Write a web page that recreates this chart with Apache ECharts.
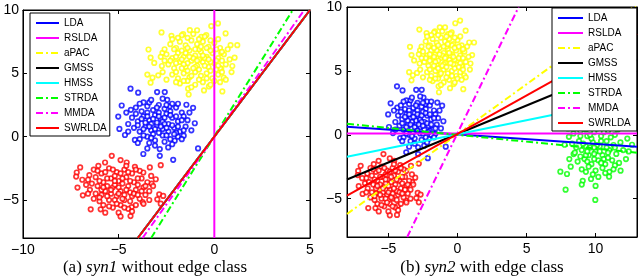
<!DOCTYPE html>
<html>
<head>
<meta charset="utf-8">
<script src="https://cdn.jsdelivr.net/npm/echarts@6/dist/echarts.min.js"></script>
<style>html,body{margin:0;padding:0;background:#fff}#c{width:640px;height:280px}</style>
</head>
<body>
<div id="c"></div>
<script>
// ---- tick labels ----
const xTicksA = [-10, -5, 0, 5];
const yTicksA = [-5, 0, 5, 10];
const xTicksB = [-5, 0, 5, 10];
const yTicksB = [-5, 0, 5, 10];

// ---- legend / method names ----
const methods = ['LDA', 'RSLDA', 'aPAC', 'GMSS', 'HMSS', 'STRDA', 'MMDA', 'SWRLDA'];
const methodColors = ['#0000ff', '#ff00ff', '#ffff00', '#000000', '#00ffff', '#00ff00', '#ff00ff', '#ff0000'];
const methodDash = ['solid', 'solid', 'dashdot', 'solid', 'solid', 'dashdot', 'dashdot', 'solid'];

// ---- projection lines (end points, in method order) ----
const syn1Lines = [
  [[-4, -8], [5, 10]],
  [[0, -8], [0, 10]],
  [[-4, -8], [5, 10]],
  [[-4, -8], [5, 10]],
  [[-4, -8], [5, 10]],
  [[-3.3, -8], [4.1, 10]],
  [[-3.75, -8], [4.7, 10]],
  [[-4, -8], [5, 10]]
];
const syn2Lines = [
  [[-8, 0.62], [13, -0.94]],
  [[-8, 0.1], [13, 0.1]],
  [[-8, -6.2], [13, 10.2]],
  [[-8, -3.5], [13, 5.85]],
  [[-8, -1.72], [13, 2.9]],
  [[-8, 0.86], [13, -1.4]],
  [[-3.64, -8], [4.43, 10]],
  [[-8, -4.77], [13, 7.9]]
];

// ---- class samples ----
const yellowPts = [
  [-2.76,8.23],[-2.24,7.96],[-1.28,8.41],[0.19,8.94],[-0.16,8.73],[0.59,8.15],[0.85,7.22],[1.2,7.22],
  [1.06,6.24],[0.94,5.58],[-3.44,6.88],[-3.33,6.24],[-3.14,5.82],[-3.5,4.9],[-3.23,4.66],[-2.93,4.84],
  [-3.33,4.26],[-1.37,3.79],[-1.34,3.33],[-0.54,3.65],[-0.28,3.97],[0.42,3.57],[0.49,4.66],[0.36,5.37],
  [0.36,6.61],[-0.42,8.02],[-0.68,7.88],[-1.63,8.1],[-2.71,6.61],[-2.74,5.58],
  [-2.3,7.3],[-2.0,7.0],[-1.8,7.5],[-1.5,7.2],[-1.2,7.6],[-0.9,7.3],[-0.6,7.5],[-0.3,7.1],[0.0,7.4],[0.3,7.0],
  [-2.5,6.5],[-2.2,6.2],[-1.9,6.6],[-1.6,6.3],[-1.3,6.8],[-1.0,6.4],[-0.7,6.7],[-0.4,6.3],[-0.1,6.6],[0.2,6.2],[0.5,6.5],
  [-2.4,5.7],[-2.1,5.4],[-1.8,5.9],[-1.5,5.5],[-1.2,6.0],[-0.9,5.6],[-0.6,5.9],[-0.3,5.5],[0.0,5.8],[0.3,5.4],[0.6,5.7],
  [-2.2,4.9],[-1.9,4.6],[-1.6,5.0],[-1.3,4.7],[-1.0,5.1],[-0.7,4.8],[-0.4,5.0],[-0.1,4.6],[0.2,4.9],
  [-1.8,4.2],[-1.4,4.4],[-1.0,4.1],[-0.6,4.3],[-0.2,4.1],
  [-1.7,8.0],[-1.1,8.1],[-0.5,7.9],[-2.6,6.9],[0.7,6.9],[-2.7,5.1],[0.6,4.5],
  [-1.1,6.2],[-0.8,6.1],[-1.4,5.8],[-0.5,6.2],[-1.7,6.1],[-0.2,5.9],[-1.0,5.5],[-0.8,6.9],[-1.5,6.6],[-0.4,7.0],[-2.0,5.8],[0.1,6.0],
  [-2.1,6.9],[-1.7,6.8],[-1.4,7.0],[-1.0,6.9],[-0.7,7.1],[-0.2,6.8],[0.1,6.9],[0.4,6.7],
  [-2.3,6.0],[-2.0,6.3],[-1.6,5.7],[-1.3,6.3],[-0.9,6.0],[-0.6,6.4],[-0.3,6.1],[0.2,5.6],[0.4,6.0],
  [-2.0,5.1],[-1.7,5.4],[-1.4,5.2],[-1.1,5.4],[-0.8,5.3],[-0.5,5.6],[-0.2,5.2],[0.1,5.3],[0.4,5.1],
  [-1.6,4.4],[-1.2,4.8],[-0.8,4.5],[-0.4,4.6],[0.0,4.4],
  [-1.9,7.8],[-1.4,7.8],[-0.8,7.7],[-0.2,7.6],[0.2,7.7],
  [-2.6,6.0],[-2.8,6.3],[0.8,6.1],[0.9,5.1],[-2.5,4.5],[-2.0,4.3],[-1.2,3.9],[0.3,4.3],[-0.9,8.4],[-2.2,7.7]
];
const bluePts = [
  [-4.38,3.79],[-3.98,3.47],[-2.99,3.52],[-2.59,3.52],[-4.84,2.46],[-5.02,1.59],[-4.96,0.61],[-4.67,0.13],
  [-4.15,-0.26],[-3.71,-1.37],[-3.5,-0.93],[-2.85,-0.98],[-2.41,-0.85],[-2.85,-1.51],[-2.15,-1.83],[-2.07,-0.32],
  [-1.6,0.08],[-1.02,1.06],[-0.85,-0.93],[-1.46,2.52],[-1.11,2.28],[-2.46,2.91],[-2.33,2.4],[-4.36,2.12],
  [-4.1,2.3],[-3.8,2.0],[-3.5,2.4],[-3.2,2.1],[-2.9,2.5],[-2.6,2.2],[-2.3,2.0],[-2.0,2.3],[-1.7,1.9],
  [-4.3,1.5],[-4.0,1.2],[-3.7,1.6],[-3.4,1.3],[-3.1,1.7],[-2.8,1.4],[-2.5,1.8],[-2.2,1.5],[-1.9,1.2],[-1.6,1.6],
  [-4.2,0.7],[-3.9,0.4],[-3.6,0.8],[-3.3,0.5],[-3.0,0.9],[-2.7,0.6],[-2.4,1.0],[-2.1,0.7],[-1.8,0.4],[-1.5,0.8],
  [-3.9,-0.2],[-3.5,0.0],[-3.1,-0.3],[-2.7,0.1],[-2.3,-0.2],[-1.9,0.0],
  [-3.0,1.1],[-3.3,1.0],[-2.7,1.2],[-3.6,1.1],[-2.4,0.4],[-3.2,0.2],[-2.9,1.9],[-3.5,1.9],[-2.6,1.0],[-2.2,2.6],
  [-3.7,2.7],[-4.5,1.0],[-1.4,1.3],[-2.0,0.3],[-3.4,-0.5],[-2.6,-0.4],
  [-3.9,2.6],[-3.4,2.7],[-3.0,2.3],[-2.5,2.5],[-1.9,2.6],
  [-4.1,1.8],[-3.8,1.4],[-3.5,1.6],[-3.2,1.4],[-2.9,1.6],[-2.6,1.5],[-2.3,1.7],[-2.0,1.6],[-1.7,1.3],
  [-4.0,0.9],[-3.7,0.6],[-3.4,0.8],[-3.1,0.6],[-2.8,0.8],[-2.5,0.7],[-2.2,0.9],[-1.9,0.8],[-1.6,0.5],
  [-3.7,0.1],[-3.3,-0.1],[-2.9,0.3],[-2.5,0.1],[-2.1,0.2],[-1.7,-0.2],
  [-4.6,1.9],[-4.5,0.4],[-1.3,1.9],[-1.2,0.5],[-3.1,-0.7],[-2.2,-0.6],[-4.0,-0.5],[-3.3,2.9],[-2.7,3.0]
];
const redPts = [
  [-5.36,-1.51],[-7.01,-2.43],[-7.19,-2.83],[-7.22,-3.15],[-7.15,-4.02],[-6.87,-4.63],[-6.46,-5.74],[-4.9,-1.85],
  [-4.58,-2.04],[-4.15,-2.38],[-3.37,-2.43],[-2.8,-2.25],[-3.06,-3.36],[-3.28,-3.71],[-2.88,-4.55],[-2.67,-4.68],
  [-2.98,-4.95],[-2.8,-5.29],[-3.75,-5.16],[-4.32,-5.56],[-4.38,-6.27],[-5.94,-5.74],[-5.71,-2.04],[-6.06,-2.3],
  [-6.53,-3.04],[-3.71,-2.83],
  [-6.3,-2.6],[-5.9,-2.9],[-5.5,-2.5],[-5.1,-2.8],[-4.7,-2.6],[-4.3,-2.9],[-3.9,-2.7],
  [-6.6,-3.4],[-6.2,-3.2],[-5.8,-3.6],[-5.4,-3.3],[-5.0,-3.5],[-4.6,-3.2],[-4.2,-3.6],[-3.8,-3.3],[-3.5,-3.6],
  [-6.5,-4.2],[-6.1,-3.9],[-5.7,-4.3],[-5.3,-4.0],[-4.9,-4.3],[-4.5,-3.9],[-4.1,-4.2],[-3.7,-4.0],[-3.4,-4.3],
  [-6.3,-4.9],[-5.9,-4.6],[-5.5,-5.0],[-5.1,-4.7],[-4.7,-5.0],[-4.3,-4.7],[-3.9,-4.9],[-3.6,-4.6],
  [-5.8,-5.4],[-5.3,-5.6],[-4.9,-5.4],[-4.5,-5.7],[-4.1,-5.4],
  [-5.0,-4.0],[-5.2,-3.8],[-4.8,-3.7],[-5.6,-3.9],[-4.4,-4.4],[-5.4,-4.5],[-4.7,-4.6],[-5.9,-4.2],[-4.0,-3.8],
  [-5.2,-3.1],[-6.7,-3.8],[-5.0,-6.0],[-6.0,-5.1],[-4.6,-2.3],[-3.3,-3.1],
  [-6.1,-2.7],[-5.7,-2.8],[-5.3,-2.6],[-4.9,-2.9],[-4.5,-2.8],[-4.1,-2.6],
  [-6.4,-3.7],[-6.0,-3.5],[-5.6,-3.3],[-5.2,-3.5],[-4.8,-3.3],[-4.4,-3.5],[-4.0,-3.3],[-3.6,-3.9],
  [-6.2,-4.5],[-5.8,-4.0],[-5.4,-4.2],[-5.0,-4.5],[-4.6,-4.2],[-4.2,-4.5],[-3.8,-4.3],
  [-6.0,-4.8],[-5.6,-4.7],[-5.2,-5.0],[-4.8,-4.9],[-4.4,-5.1],[-4.0,-4.6],[-3.7,-5.3],
  [-5.5,-5.5],[-5.1,-5.3],[-4.7,-5.6],[-4.3,-5.9],[-5.7,-6.0],[-6.6,-4.5],[-6.9,-3.4],[-3.2,-3.9],[-3.4,-5.0],[-4.9,-6.3]
];
const greenPts = [
  [7.83,-4.3],[9.98,-5.1],[7.45,-2.89],[7.93,-3.07],[9.07,-3.6],[9.67,-3.46],[10.98,-3.28],[11.81,-2.81],
  [12.4,-1.3],[7.76,-0.78],[8.07,-0.16],[8.41,-1.51],[12.64,-0.78],
  [8.6,0.8],[9.2,1.0],[9.8,0.7],[10.4,1.1],[11.0,0.8],
  [8.4,0.1],[8.9,0.3],[9.4,-0.1],[9.9,0.2],[10.4,-0.1],[10.9,0.3],[11.4,0.0],
  [8.3,-0.7],[8.8,-0.5],[9.3,-0.9],[9.8,-0.6],[10.3,-0.9],[10.8,-0.5],[11.3,-0.8],[11.8,-0.6],
  [8.5,-1.4],[9.0,-1.2],[9.5,-1.6],[10.0,-1.3],[10.5,-1.6],[11.0,-1.2],[11.5,-1.5],
  [8.7,-2.1],[9.2,-1.9],[9.7,-2.3],[10.2,-2.0],[10.7,-2.3],[11.2,-2.0],[11.7,-2.2],
  [9.0,-2.7],[9.5,-2.5],[10.0,-2.8],[10.5,-2.6],[11.0,-2.9],
  [9.9,-1.5],[10.1,-0.8],[9.6,-1.0],[10.6,-1.9],[9.3,-1.6],[10.3,-1.3],[10.8,-1.0],[9.7,-0.3],[12.0,-1.2],[8.1,-1.9],[10.2,-3.3],
  [8.9,-0.1],[9.3,0.4],[9.6,0.0],[10.1,0.5],[10.6,0.2],[11.1,-0.2],[11.6,0.4],
  [8.6,-1.0],[9.1,-0.7],[9.4,-1.3],[9.9,-1.0],[10.4,-0.5],[10.9,-1.4],[11.4,-1.0],
  [8.9,-1.7],[9.4,-2.1],[9.9,-1.9],[10.4,-2.2],[10.9,-1.8],[11.4,-2.4],
  [9.3,-2.9],[9.8,-3.1],[10.7,-3.0],[11.3,-2.7],[8.2,-2.5],[12.2,-1.9],[12.3,-0.3],[8.0,0.5],[10.0,-4.0],[9.0,-3.9]
];

// ---- build chart ----
const AX = '#000';
const FONT = 'Liberation Sans';
const minus = v => String(v).replace('-', '\u2212');
const dashMap = { solid: 'solid', dashdot: [7, 3, 2, 3] };

function xAxes(gi, min, max, ticks) {
  return [
    { gridIndex: gi, type: 'value', min, max, position: 'bottom',
      axisLine: { show: true, onZero: false, lineStyle: { color: AX, width: 1 } },
      axisTick: { show: true, inside: true, length: 4, customValues: ticks, lineStyle: { color: AX } },
      axisLabel: { show: true, customValues: ticks, margin: 5, color: '#000', fontFamily: FONT, fontSize: 14, formatter: minus },
      splitLine: { show: false } },
    { gridIndex: gi, type: 'value', min, max, position: 'top',
      axisLine: { show: true, onZero: false, lineStyle: { color: AX, width: 1 } },
      axisTick: { show: true, inside: true, length: 4, customValues: ticks, lineStyle: { color: AX } },
      axisLabel: { show: false }, splitLine: { show: false } }
  ];
}
function yAxes(gi, min, max, ticks, margin) {
  return [
    { gridIndex: gi, type: 'value', min, max, position: 'left',
      axisLine: { show: true, onZero: false, lineStyle: { color: AX, width: 1 } },
      axisTick: { show: true, inside: true, length: 4, customValues: ticks, lineStyle: { color: AX } },
      axisLabel: { show: true, customValues: ticks, margin, color: '#000', fontFamily: FONT, fontSize: 14, formatter: minus },
      splitLine: { show: false } },
    { gridIndex: gi, type: 'value', min, max, position: 'right',
      axisLine: { show: true, onZero: false, lineStyle: { color: AX, width: 1 } },
      axisTick: { show: true, inside: true, length: 4, customValues: ticks, lineStyle: { color: AX } },
      axisLabel: { show: false }, splitLine: { show: false } }
  ];
}

function scatter(data, color, xi, yi) {
  return { type: 'scatter', data, xAxisIndex: xi, yAxisIndex: yi, symbol: 'circle', symbolSize: 4.5,
    itemStyle: { color: '#fff', borderColor: color, borderWidth: 1.7 }, z: 2, silent: true };
}
function lines(ends, xi, yi) {
  return methods.map((m, i) => ({
    type: 'line', name: m, data: ends[i], xAxisIndex: xi, yAxisIndex: yi,
    symbol: 'none', showSymbol: false, z: 3, silent: true,
    lineStyle: { color: methodColors[i], width: 2, type: dashMap[methodDash[i]] },
    itemStyle: { color: methodColors[i] }
  }));
}

const legendCommon = {
  orient: 'vertical', data: methods, backgroundColor: '#fff', borderColor: '#000', borderWidth: 1,
  itemHeight: 10, itemGap: 5, selectedMode: false,
  itemStyle: { opacity: 0 },
  lineStyle: { width: 2 },
  textStyle: { fontFamily: FONT, fontSize: 10, color: '#000', lineHeight: 10 }
};

const option = {
  animation: false,
  grid: [
    { left: 22, top: 10, width: 288, height: 228, show: true, borderColor: AX, borderWidth: 1, backgroundColor: 'transparent' },
    { left: 347, top: 7, width: 290, height: 230, show: true, borderColor: AX, borderWidth: 1, backgroundColor: 'transparent' }
  ],
  xAxis: [...xAxes(0, -10, 5, xTicksA), ...xAxes(1, -8, 13, xTicksB)],
  yAxis: [...yAxes(0, -8, 10, yTicksA, 4), ...yAxes(1, -8, 10, yTicksB, 5)],
  legend: [
    Object.assign({}, legendCommon, { left: 30, top: 13, itemWidth: 23, padding: [5, 3, 3, 5] }),
    Object.assign({}, legendCommon, { left: 552, top: 8, itemWidth: 25, padding: [5, 6, 3, 5] })
  ],
  series: [
    scatter(yellowPts, '#ffff00', 0, 0),
    scatter(bluePts, '#0000ff', 0, 0),
    scatter(redPts, '#ff0000', 0, 0),
    ...lines(syn1Lines, 0, 0),
    scatter(yellowPts, '#ffff00', 2, 2),
    scatter(bluePts, '#0000ff', 2, 2),
    scatter(redPts, '#ff0000', 2, 2),
    scatter(greenPts, '#00ff00', 2, 2),
    ...lines(syn2Lines, 2, 2)
  ],
  graphic: [
    { type: 'text', x: 155, y: 268, z: 10,
      style: { text: '{n|(a) }{i|syn1}{n| without edge class}', align: 'center', verticalAlign: 'middle',
        rich: { n: { fontFamily: 'Liberation Serif', fontSize: 17, fill: '#000' },
                i: { fontFamily: 'Liberation Serif', fontSize: 17, fontStyle: 'italic', fill: '#000' } } } },
    { type: 'text', x: 482, y: 268, z: 10,
      style: { text: '{n|(b) }{i|syn2}{n| with edge class}', align: 'center', verticalAlign: 'middle',
        rich: { n: { fontFamily: 'Liberation Serif', fontSize: 17, fill: '#000' },
                i: { fontFamily: 'Liberation Serif', fontSize: 17, fontStyle: 'italic', fill: '#000' } } } }
  ]
};

const chart = echarts.init(document.getElementById('c'), null, { renderer: 'canvas' });
chart.setOption(option);
</script>
</body>
</html>
